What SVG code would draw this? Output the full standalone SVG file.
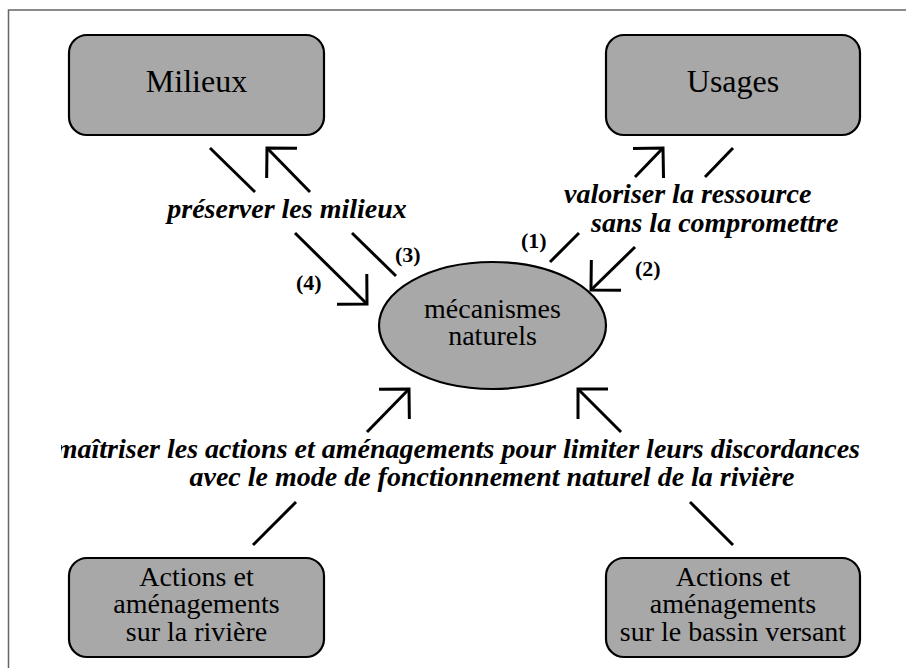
<svg xmlns="http://www.w3.org/2000/svg" width="906" height="668" viewBox="0 0 906 668">
  <style>
    .box { fill: #a8a8a8; stroke: #000; stroke-width: 2.2; }
    .lbl { font-family: "Liberation Serif", "Times New Roman", serif; fill: #000; text-anchor: middle; }
    .big { font-size: 32px; }
    .mid { font-size: 28px; }
    .goal { font-family: "Liberation Serif", "Times New Roman", serif; font-size: 28px; font-weight: bold; font-style: italic; fill: #000; }
    .num { font-family: "Liberation Serif", "Times New Roman", serif; font-size: 22px; font-weight: bold; fill: #000; }
    .link { fill: none; stroke: #000; stroke-width: 3; }
  </style>
  <defs>
    <marker id="head" markerUnits="userSpaceOnUse" viewBox="-25 -25 30 50" refX="0" refY="0" markerWidth="30" markerHeight="50" orient="auto" overflow="visible">
      <path d="M -21.2 -21.2 L 0 0 L -21.2 21.2" fill="none" stroke="#000" stroke-width="3" stroke-linejoin="miter"/>
    </marker>
    <clipPath id="textArea">
      <rect x="61" y="0" width="845" height="668"/>
    </clipPath>
  </defs>

  <rect width="906" height="668" fill="#fff"/>
  <!-- outer frame (only top and left edges fall inside the canvas) -->
  <path d="M 8.5 668 L 8.5 10 L 906 10" fill="none" stroke="#666" stroke-width="1.5"/>

  <g id="milieux">
    <rect class="box" x="69" y="35" width="255" height="100" rx="18"/>
    <text class="lbl big" x="196.5" y="92">Milieux</text>
  </g>

  <g id="usages">
    <rect class="box" x="606" y="35" width="254" height="100" rx="18"/>
    <text class="lbl big" x="733" y="92">Usages</text>
  </g>

  <g id="mecanismes">
    <ellipse class="box" cx="492.5" cy="325.5" rx="113.5" ry="63.5"/>
    <text class="lbl mid" x="492.5" y="318">mécanismes</text>
    <text class="lbl mid" x="492.5" y="345">naturels</text>
  </g>

  <g id="actions-riviere">
    <rect class="box" x="69" y="558" width="255" height="99" rx="18"/>
    <text class="lbl mid" x="196.5" y="586">Actions et</text>
    <text class="lbl mid" x="196.5" y="613">aménagements</text>
    <text class="lbl mid" x="196.5" y="641">sur la rivière</text>
  </g>

  <g id="actions-bassin">
    <rect class="box" x="606" y="558" width="254" height="99" rx="18"/>
    <text class="lbl mid" x="733" y="586">Actions et</text>
    <text class="lbl mid" x="733" y="613">aménagements</text>
    <text class="lbl mid" x="733" y="641">sur le bassin versant</text>
  </g>

  <g id="connectors">
    <!-- (4) milieux to mécanismes -->
    <path class="link" d="M 210 148 L 255 192"/>
    <path class="link" d="M 295 233 L 367 304" marker-end="url(#head)"/>
    <!-- (3) mécanismes to milieux -->
    <path class="link" d="M 396 276 L 352 233"/>
    <path class="link" d="M 310 192 L 267 148" marker-end="url(#head)"/>
    <!-- (1) mécanismes to usages -->
    <path class="link" d="M 550 262 L 579 233"/>
    <path class="link" d="M 635 177 L 663 148" marker-end="url(#head)"/>
    <!-- (2) usages to mécanismes -->
    <path class="link" d="M 733 148 L 705 177"/>
    <path class="link" d="M 635 247 L 591 290" marker-end="url(#head)"/>
    <!-- actions sur la rivière to mécanismes -->
    <path class="link" d="M 253 545 L 296 502"/>
    <path class="link" d="M 367 432 L 409 389" marker-end="url(#head)"/>
    <!-- actions sur le bassin versant to mécanismes -->
    <path class="link" d="M 733 545 L 690 502"/>
    <path class="link" d="M 621 432 L 578 389" marker-end="url(#head)"/>
  </g>

  <g id="labels">
    <text class="goal" x="287" y="218" text-anchor="middle">préserver les milieux</text>
    <text class="goal" x="564" y="203">valoriser la ressource</text>
    <text class="goal" x="591" y="232">sans la compromettre</text>
    <g clip-path="url(#textArea)">
      <text class="goal" x="860" y="458" text-anchor="end">maîtriser les actions et aménagements pour limiter leurs discordances</text>
    </g>
    <text class="goal" x="492" y="486" text-anchor="middle">avec le mode de fonctionnement naturel de la rivière</text>
    <text class="num" x="521" y="248">(1)</text>
    <text class="num" x="635" y="276">(2)</text>
    <text class="num" x="395" y="262">(3)</text>
    <text class="num" x="296" y="290">(4)</text>
  </g>
</svg>
